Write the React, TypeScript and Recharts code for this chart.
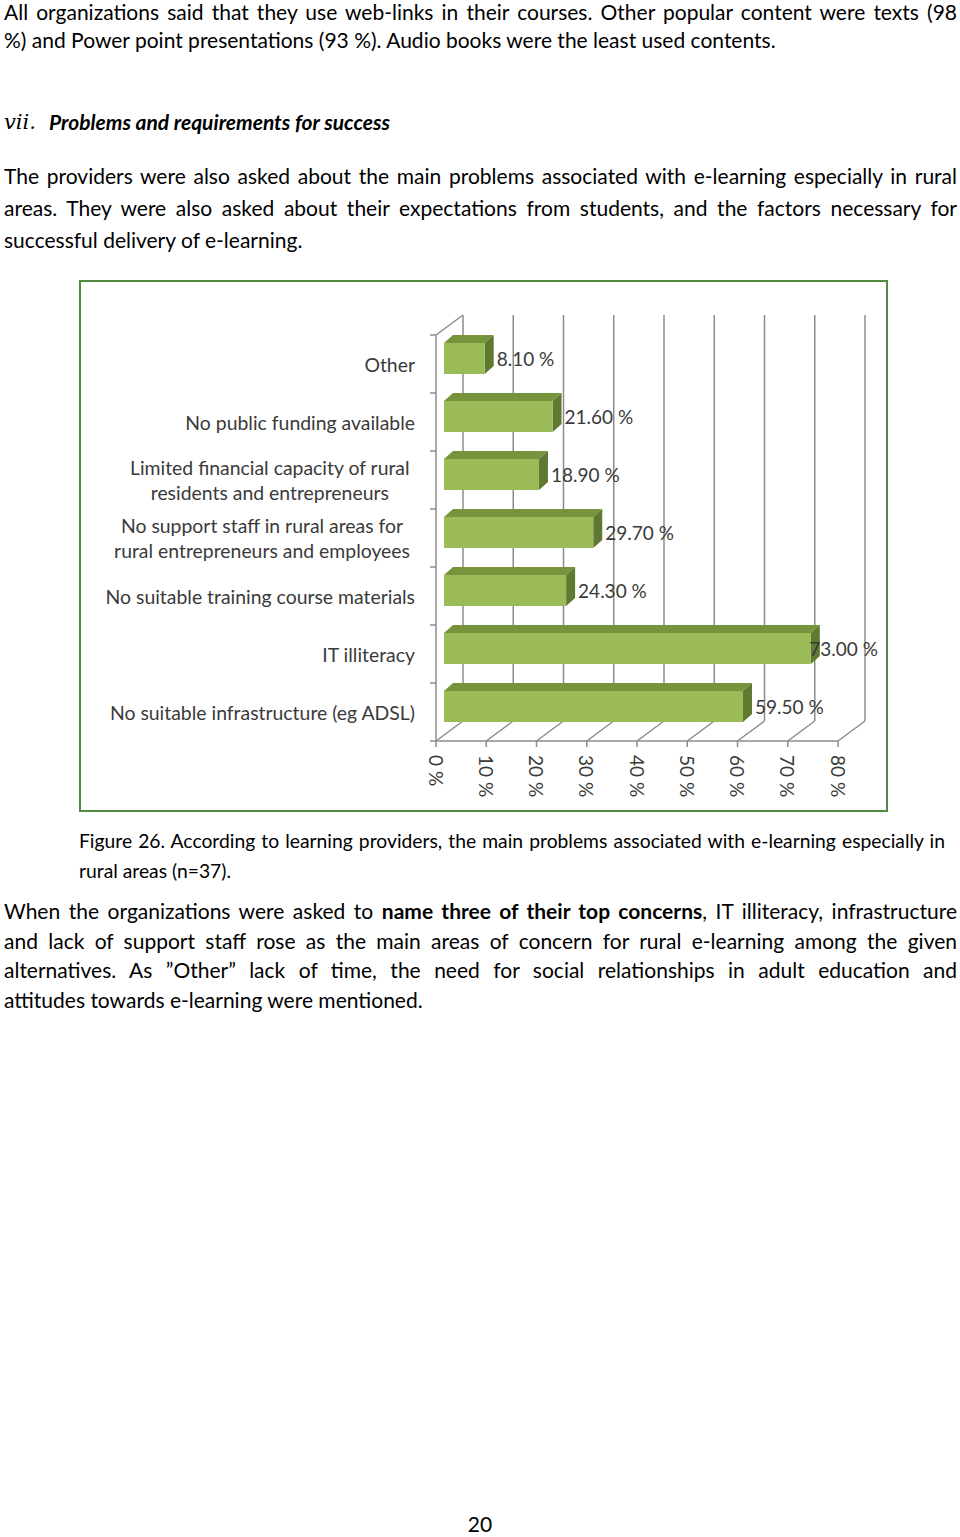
import React from "react";
import { BarChart, Bar, XAxis, YAxis, CartesianGrid } from "recharts";

// problems named by learning providers (Figure 26, n=37)
const categories = [
  "Other",
  "No public funding available",
  "Limited financial capacity of rural\nresidents and entrepreneurs",
  "No support staff in rural areas for\nrural entrepreneurs and employees",
  "No suitable training course materials",
  "IT illiteracy",
  "No suitable infrastructure (eg ADSL)",
];
const shares = [8.1, 21.6, 18.9, 29.7, 24.3, 73.0, 59.5];
const xTicks = [0, 10, 20, 30, 40, 50, 60, 70, 80];

const data = categories.map((name, i) => ({ name, value: shares[i] }));

const CHART_W = 805;
const CHART_H = 528;
const MARGIN = { top: 53, right: 48, bottom: 14, left: 15 };
const Y_AXIS_W = 340;
const X_AXIS_H = 55;
const BAND = (CHART_H - MARGIN.top - MARGIN.bottom - X_AXIS_H) / categories.length;

// fake 3D offsets
const BAR_SHIFT = { dx: 8, dy: -6 };
const BAR_DEPTH = { dx: 9, dy: -8 };
const WALL = { dx: 27, dy: -20 };

const GRID = "#8c8c8c";
const LABEL = "#3a3a3a";
const FONT = "Lato, 'Open Sans', sans-serif";

let ctx: CanvasRenderingContext2D | null = null;
function textWidth(s: string, font: string) {
  if (!ctx) ctx = document.createElement("canvas").getContext("2d");
  if (!ctx) return s.length * 8;
  ctx.font = font;
  return ctx.measureText(s).width;
}

function Bar3D(props: any) {
  const { x, y, width, height, payload } = props;
  const fx = x + BAR_SHIFT.dx;
  const fy = y + BAR_SHIFT.dy;
  const { dx, dy } = BAR_DEPTH;
  const top = `M${fx},${fy} L${fx + dx},${fy + dy} L${fx + width + dx},${fy + dy} L${fx + width},${fy} Z`;
  const side = `M${fx + width},${fy} L${fx + width + dx},${fy + dy} L${fx + width + dx},${fy + height + dy} L${fx + width},${fy + height} Z`;
  const label = `${payload.value.toFixed(2)} %`;
  const lw = textWidth(label, `19px ${FONT}`);
  const lx = Math.min(fx + width + dx + 3, CHART_W - 8 - lw);
  return (
    <g>
      <path d={top} fill="#77933c" />
      <path d={side} fill="#5f7a30" />
      <rect x={fx} y={fy} width={width} height={height} fill="#9bbb59" />
      <text x={lx} y={fy + height / 2} dominantBaseline="central" fontSize={19} fontFamily={FONT} fill={LABEL}>
        {label}
      </text>
    </g>
  );
}

function gridLine(p: any) {
  const { x1, y1, y2 } = p;
  const first = p.index === 0 || Math.abs(x1 - p.x) < 1;
  return (
    <g key={p.key}>
      <line x1={x1 + WALL.dx} y1={y1 + WALL.dy} x2={x1 + WALL.dx} y2={y2 + WALL.dy} stroke={GRID} strokeWidth={1.5} />
      <line x1={x1} y1={y2} x2={x1 + WALL.dx} y2={y2 + WALL.dy} stroke={GRID} strokeWidth={1.5} />
      {first && <line x1={x1} y1={y1} x2={x1 + WALL.dx} y2={y1 + WALL.dy} stroke={GRID} strokeWidth={1.5} />}
    </g>
  );
}

function XTick(p: any) {
  const { x, y, payload } = p;
  return (
    <text x={x} y={y} transform={`rotate(90 ${x} ${y})`} dominantBaseline="central" fontSize={19} fontFamily={FONT} fill={LABEL}>
      {`${payload.value} %`}
    </text>
  );
}

function YTick(p: any) {
  const { x, y, payload, index } = p;
  const lines = String(payload.value).split("\n");
  const size = 19.4;
  const font = `${size}px ${FONT}`;
  const multi = lines.length > 1;
  const right = x - (multi ? 26 : 21);
  const maxW = Math.max(...lines.map((l) => textWidth(l, font)));
  const lh = 25;
  const y0 = y - ((lines.length - 1) * lh) / 2;
  return (
    <g>
      <line x1={x - 6} y1={y - BAND / 2} x2={x} y2={y - BAND / 2} stroke={GRID} strokeWidth={1.5} />
      {index === categories.length - 1 && (
        <line x1={x - 6} y1={y + BAND / 2} x2={x} y2={y + BAND / 2} stroke={GRID} strokeWidth={1.5} />
      )}
      {lines.map((l, i) => (
        <text
          key={i}
          x={multi ? right - maxW / 2 : right}
          y={y0 + i * lh}
          textAnchor={multi ? "middle" : "end"}
          dominantBaseline="central"
          fontSize={size}
          fontFamily={FONT}
          fill={LABEL}
        >
          {l}
        </text>
      ))}
    </g>
  );
}

function ProblemsChart() {
  return (
    <BarChart width={CHART_W} height={CHART_H} data={data} layout="vertical" margin={MARGIN}>
      <CartesianGrid horizontal={false} vertical={gridLine} syncWithTicks />
      <XAxis
        type="number"
        domain={[0, 80]}
        ticks={xTicks}
        interval={0}
        height={X_AXIS_H}
        tick={<XTick />}
        tickSize={6}
        tickMargin={8}
        tickLine={{ stroke: GRID, strokeWidth: 1.5 }}
        axisLine={{ stroke: GRID, strokeWidth: 1.5 }}
      />
      <YAxis
        type="category"
        dataKey="name"
        width={Y_AXIS_W}
        interval={0}
        tick={<YTick />}
        tickLine={false}
        tickSize={0}
        tickMargin={0}
        axisLine={{ stroke: GRID, strokeWidth: 1.5 }}
      />
      <Bar dataKey="value" barSize={31} shape={<Bar3D />} isAnimationActive={false} />
    </BarChart>
  );
}

const BODY = "Lato, 'Open Sans', sans-serif";

function Line(props: {
  y: number;
  left?: number;
  width?: number;
  justify?: boolean;
  lh?: number;
  size?: number;
  children: React.ReactNode;
}) {
  const { y, left = 4, width = 953, justify = false, lh = 30, size = 21, children } = props;
  return (
    <div
      style={{
        position: "absolute",
        top: y - lh / 2,
        left,
        width,
        height: lh,
        lineHeight: `${lh}px`,
        fontSize: size,
        fontFamily: BODY,
        color: "#000",
        whiteSpace: "nowrap",
        textAlign: justify ? "justify" : "left",
        textAlignLast: justify ? "justify" : "left",
      }}
    >
      {children}
    </div>
  );
}

export default function App() {
  return (
    <div style={{ position: "absolute", left: 0, top: 0, width: 960, height: 1537, background: "#fff", overflow: "hidden" }}>
      <Line y={12} lh={24} justify>
        All organizations said that they use web-links in their courses. Other popular content were texts (98
      </Line>
      <Line y={40}>%) and Power point presentations (93 %). Audio books were the least used contents.</Line>

      <div style={{ position: "absolute", top: 107, left: 4, height: 30, lineHeight: "30px", whiteSpace: "nowrap" }}>
        <span style={{ fontFamily: "'DejaVu Serif', 'Liberation Serif', serif", fontStyle: "italic", fontSize: 21 }}>vii.</span>
        <span
          style={{
            position: "absolute",
            left: 45,
            fontFamily: BODY,
            fontStyle: "italic",
            fontWeight: 700,
            fontSize: 21,
          }}
        >
          Problems and requirements for success
        </span>
      </div>

      <Line y={176} justify>
        The providers were also asked about the main problems associated with e-learning especially in rural
      </Line>
      <Line y={208} justify>
        areas. They were also asked about their expectations from students, and the factors necessary for
      </Line>
      <Line y={240}>successful delivery of e-learning.</Line>

      <div
        style={{
          position: "absolute",
          left: 79,
          top: 280,
          width: 809,
          height: 532,
          border: "2px solid #4f8a3e",
          boxSizing: "border-box",
          background: "#fff",
        }}
      >
        <ProblemsChart />
      </div>

      <Line y={841} left={79} width={866} size={19.3} justify>
        Figure 26. According to learning providers, the main problems associated with e-learning especially in
      </Line>
      <Line y={871} left={79} size={19.3}>
        rural areas (n=37).
      </Line>

      <Line y={911} justify>
        When the organizations were asked to <b>name three of their top concerns</b>, IT illiteracy, infrastructure
      </Line>
      <Line y={941} justify>
        and lack of support staff rose as the main areas of concern for rural e-learning among the given
      </Line>
      <Line y={970} justify>
        alternatives. As ”Other” lack of time, the need for social relationships in adult education and
      </Line>
      <Line y={1000}>attitudes towards e-learning were mentioned.</Line>

      <div
        style={{
          position: "absolute",
          top: 1512,
          left: 430,
          width: 100,
          height: 24,
          textAlign: "center",
          lineHeight: "24px",
          fontSize: 21,
          fontFamily: BODY,
        }}
      >
        20
      </div>
    </div>
  );
}
